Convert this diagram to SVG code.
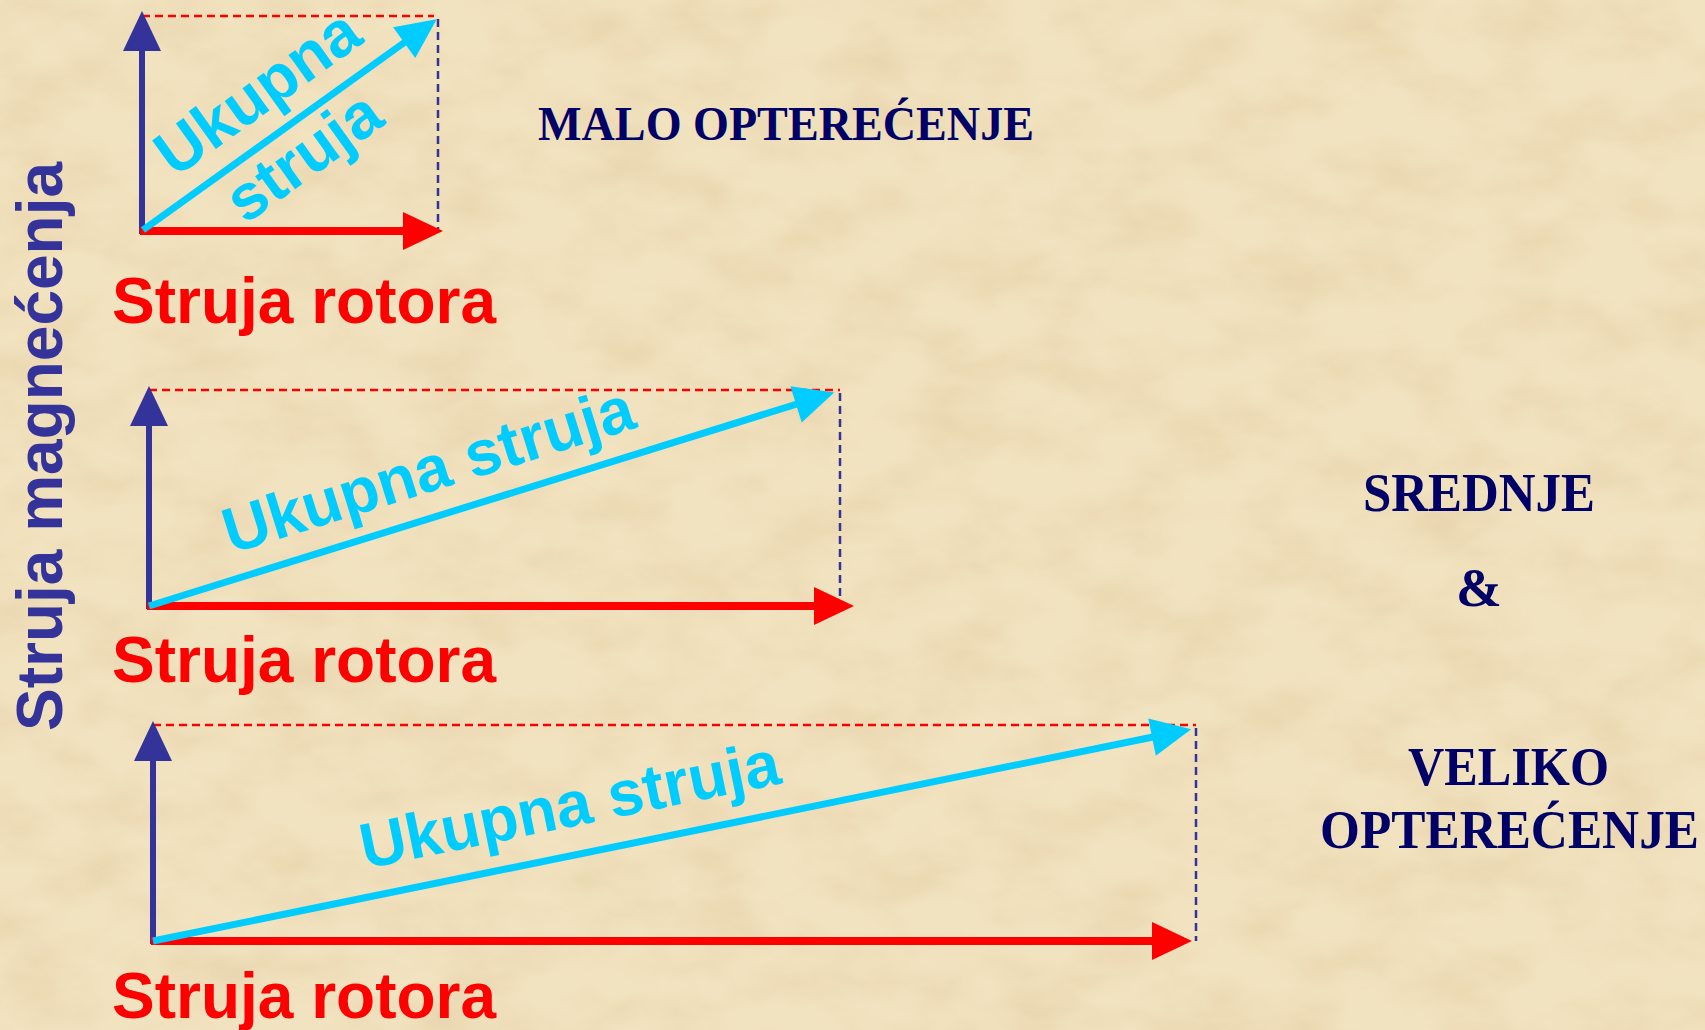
<svg xmlns="http://www.w3.org/2000/svg" width="1705" height="1030" viewBox="0 0 1705 1030">
  <style>
    .sans { font-family: "Liberation Sans", Arial, sans-serif; font-weight: bold; font-size: 64px; }
    .serif { font-family: "Liberation Serif", "Times New Roman", serif; font-weight: bold; fill: #000066; }
    .red { fill: #FF0000; }
    .cyan { fill: #00CCFF; }
    .blue { fill: #333399; }
    .ax-blue { stroke: #333399; stroke-width: 6; fill: none; marker-end: url(#hBlue); }
    .ax-red { stroke: #FF0000; stroke-width: 8; fill: none; marker-end: url(#hRed); }
    .ax-cyan { stroke: #00CCFF; stroke-width: 7; fill: none; marker-end: url(#hCyan); }
    .dash-red { stroke: #FF0000; stroke-width: 2.5; stroke-dasharray: 8 5; fill: none; }
    .dash-blue { stroke: #333399; stroke-width: 2.5; stroke-dasharray: 8 5; fill: none; }
  </style>
  <defs>
    <marker id="hBlue" markerUnits="userSpaceOnUse" markerWidth="42" markerHeight="40" refX="1" refY="19" orient="auto" overflow="visible">
      <path d="M0,0 L40,19 L0,38 Z" fill="#333399"/>
    </marker>
    <marker id="hRed" markerUnits="userSpaceOnUse" markerWidth="42" markerHeight="40" refX="1" refY="19" orient="auto" overflow="visible">
      <path d="M0,0 L40,19 L0,38 Z" fill="#FF0000"/>
    </marker>
    <marker id="hCyan" markerUnits="userSpaceOnUse" markerWidth="42" markerHeight="40" refX="1" refY="19" orient="auto" overflow="visible">
      <path d="M0,0 L40,19 L0,38 Z" fill="#00CCFF"/>
    </marker>
    <filter id="paper" x="0" y="0" width="1705" height="1030" filterUnits="userSpaceOnUse">
      <feTurbulence type="fractalNoise" baseFrequency="0.012 0.02" numOctaves="4" seed="7" result="n"/>
      <feColorMatrix in="n" type="matrix" values="0 0 0 0 0.76  0 0 0 0 0.6  0 0 0 0 0.36  1.0 0 0 0 -0.36"/>
    </filter>
  </defs>

  <g id="background">
    <rect x="0" y="0" width="1705" height="1030" fill="#F2E3C0"/>
    <rect x="0" y="0" width="1705" height="1030" fill="#000" filter="url(#paper)"/>
  </g>

  <g id="axis-label">
    <text class="sans blue" transform="translate(62,731) rotate(-90)">Struja magnećenja</text>
  </g>

  <g id="connectors">
    <!-- panel 1 -->
    <line class="dash-red" x1="142" y1="16" x2="434" y2="16"/>
    <line class="dash-blue" x1="438" y1="19" x2="438" y2="231"/>
    <line class="ax-blue" x1="142" y1="234" x2="142" y2="50"/>
    <line class="ax-red" x1="140" y1="231" x2="404" y2="231"/>
    <line class="ax-cyan" x1="143" y1="230" x2="405" y2="42"/>
    <!-- panel 2 -->
    <line class="dash-red" x1="149" y1="390" x2="840" y2="390"/>
    <line class="dash-blue" x1="840" y1="393" x2="840" y2="606"/>
    <line class="ax-blue" x1="149" y1="609" x2="149" y2="425"/>
    <line class="ax-red" x1="147" y1="606" x2="815" y2="606"/>
    <line class="ax-cyan" x1="149" y1="606" x2="797" y2="404"/>
    <!-- panel 3 -->
    <line class="dash-red" x1="153" y1="725" x2="1196" y2="725"/>
    <line class="dash-blue" x1="1196" y1="728" x2="1196" y2="941"/>
    <line class="ax-blue" x1="153" y1="944" x2="153" y2="760"/>
    <line class="ax-red" x1="151" y1="941" x2="1153" y2="941"/>
    <line class="ax-cyan" x1="153" y1="941" x2="1153" y2="737"/>
  </g>

  <g id="panel1-labels">
    <g transform="translate(270,110) rotate(-35.7)">
      <text class="sans cyan" x="0" y="0" text-anchor="middle">Ukupna</text>
      <text class="sans cyan" x="0" y="79" text-anchor="middle">struja</text>
    </g>
    <text class="sans red" x="112" y="323">Struja rotora</text>
  </g>

  <g id="panel2-labels">
    <text class="sans cyan" transform="translate(231,554) rotate(-17.3)">Ukupna struja</text>
    <text class="sans red" x="112" y="682">Struja rotora</text>
  </g>

  <g id="panel3-labels">
    <text class="sans cyan" transform="translate(365,869) rotate(-11.6)">Ukupna struja</text>
    <text class="sans red" x="112" y="1018">Struja rotora</text>
  </g>

  <g id="load-labels">
    <text class="serif" x="538" y="140" font-size="48" textLength="496" lengthAdjust="spacingAndGlyphs">MALO OPTEREĆENJE</text>
    <text class="serif" x="1363" y="511" font-size="55" textLength="232" lengthAdjust="spacingAndGlyphs">SREDNJE</text>
    <text class="serif" x="1479" y="606" font-size="55" text-anchor="middle">&amp;</text>
    <text class="serif" x="1408" y="785" font-size="54" textLength="201" lengthAdjust="spacingAndGlyphs">VELIKO</text>
    <text class="serif" x="1320" y="848" font-size="54" textLength="379" lengthAdjust="spacingAndGlyphs">OPTEREĆENJE</text>
  </g>
</svg>
